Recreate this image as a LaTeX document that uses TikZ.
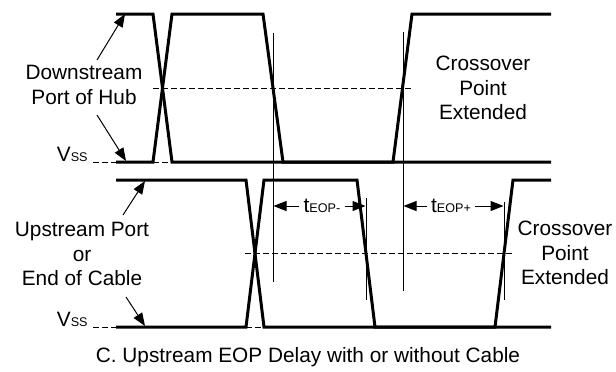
\documentclass[tikz,border=0pt]{standalone}
\usepackage{fontspec}
\setmainfont{Liberation Sans}
\usetikzlibrary{arrows.meta}

\newcommand{\smallsub}[1]{{\fontsize{6.3}{7}\selectfont #1}}

\begin{document}
\begin{tikzpicture}[x=0.5pt,y=-0.5pt,
  wave/.style={line width=1.5pt},
  guide/.style={line width=0.5pt},
  refline/.style={line width=0.5pt,dash pattern=on 3pt off 1.5pt},
  pointer/.style={line width=0.5pt,-{Triangle[length=6.5pt,width=5pt]}},
  lbl/.style={font=\fontsize{10.4}{12.4}\selectfont,align=center,inner sep=0pt}]

\useasboundingbox (0,0) rectangle (616,371);

% Downstream port waveforms
\draw[wave] (116,14) -- (153,14) -- (172,162) -- (393,162) -- (412,14) -- (551,14);
\draw[wave] (116,162) -- (153,162) -- (172,14) -- (263,14) -- (283,162) -- (551,162);

% Upstream port waveforms
\draw[wave] (116,180) -- (246,180) -- (264,327) -- (495,327) -- (513,180) -- (551,180);
\draw[wave] (116,327) -- (246,327) -- (264,180) -- (357,180) -- (375,327) -- (551,327);

% Reference levels
\draw[refline] (93,162) -- (116,162);
\draw[refline] (153,162) -- (172,162);
\draw[refline] (153,88) -- (413,88);
\draw[refline] (93,327) -- (116,327);
\draw[refline] (246,327) -- (264,327);
\draw[refline] (245,253) -- (513,253);

% Crossover markers
\draw[guide] (273,33) -- (273,282);
\draw[guide] (403,32) -- (403,291);
\draw[guide] (366,198) -- (366,300);
\draw[guide] (504,202) -- (504,300);

% Labels
\node[lbl] (down) at (84,85) {Downstream\\Port of Hub};
\node[lbl] (up) at (82,254) {Upstream Port\\or\\End of Cable};
\node[lbl] (crossA) at (483,88) {Crossover\\Point\\Extended};
\node[lbl] (crossB) at (565,253) {Crossover\\Point\\Extended};
\node[lbl,anchor=base east] (vssA) at (88,161) {V\smallsub{SS}};
\node[lbl,anchor=base east] (vssB) at (88,326) {V\smallsub{SS}};
\node[lbl] (caption) at (308,357) {C. Upstream EOP Delay with or without Cable};

% Pointers
\coordinate (downHi) at (125,14);
\coordinate (downLo) at (126,161);
\coordinate (upHi) at (145,181);
\coordinate (upLo) at (145,326);
\draw[pointer] (97,60) -- (downHi);
\draw[pointer] (97,115) -- (downLo);
\draw[pointer] (123,215) -- (upHi);
\draw[pointer] (126,297) -- (upLo);

% EOP timing
\node[lbl,inner sep=2pt] (teopm) at (322,206) {t\smallsub{EOP-}};
\node[lbl,inner sep=2pt] (teopp) at (451,206) {t\smallsub{EOP+}};
\coordinate (mA) at (273.5,206);
\coordinate (mB) at (365.5,206);
\coordinate (pA) at (403.5,206);
\coordinate (pB) at (503.5,206);
\draw[pointer] (teopm.west) -- (mA);
\draw[pointer] (teopm.east) -- (mB);
\draw[pointer] (teopp.west) -- (pA);
\draw[pointer] (teopp.east) -- (pB);

\end{tikzpicture}
\end{document}
